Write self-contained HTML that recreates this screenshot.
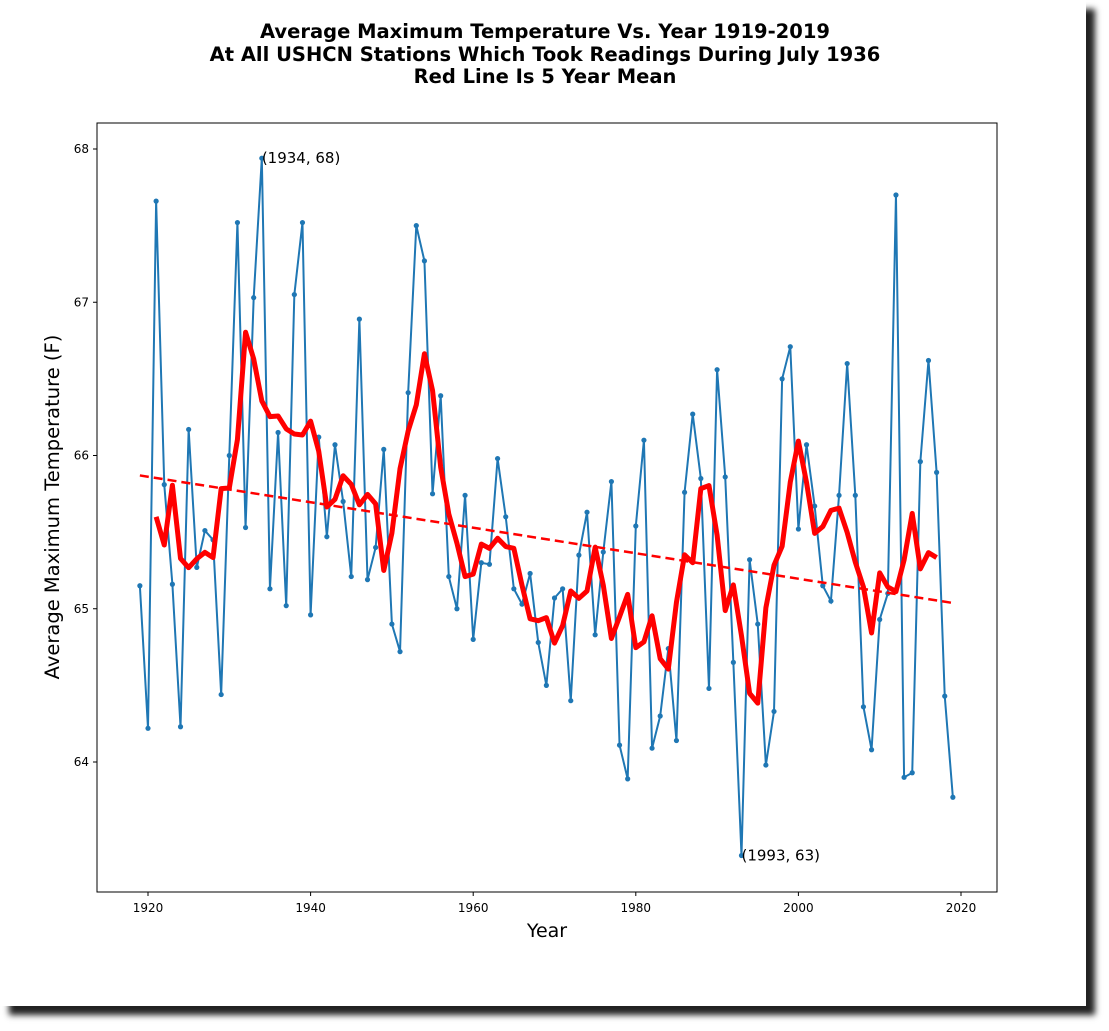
<!DOCTYPE html>
<html><head><meta charset="utf-8"><style>
body{margin:0;width:1109px;height:1031px;background:#fff;overflow:hidden;font-family:"Liberation Sans","DejaVu Sans",sans-serif}
#fig{position:absolute;left:0;top:0;width:1086px;height:1006px;background:#fff;box-shadow:9px 9px 6px #222}
svg{position:absolute;left:0;top:0}
</style></head><body>
<div id="fig"></div>
<svg id="chart" width="1109" height="1031">
<g font-family="DejaVu Sans, Liberation Sans, sans-serif" font-weight="bold" font-size="19.5" text-anchor="middle">
<text x="545" y="38">Average Maximum Temperature Vs. Year 1919-2019</text>
<text x="545" y="61">At All USHCN Stations Which Took Readings During July 1936</text>
<text x="545" y="83">Red Line Is 5 Year Mean</text>
</g>
<text x="547" y="937" font-family="DejaVu Sans, Liberation Sans, sans-serif" font-size="19" text-anchor="middle">Year</text>
<text transform="translate(59,507) rotate(-90)" font-family="DejaVu Sans, Liberation Sans, sans-serif" font-size="19.5" text-anchor="middle">Average Maximum Temperature (F)</text>
<rect x="97" y="123" width="900" height="769" fill="none" stroke="#000" stroke-width="1"/>
<g id="axes"></g><g id="marks"></g>
</svg>
<script>
const years=[];for(let y=1919;y<=2019;y++)years.push(y);
const temps=[65.15,64.22,67.66,65.81,65.16,64.23,66.17,65.27,65.51,65.45,64.44,66.0,67.52,65.53,67.03,67.94,65.13,66.15,65.02,67.05,67.52,64.96,66.12,65.47,66.07,65.70,65.21,66.89,65.19,65.40,66.04,64.90,64.72,66.41,67.50,67.27,65.75,66.39,65.21,65.0,65.74,64.80,65.30,65.29,65.98,65.60,65.13,65.03,65.23,64.78,64.50,65.07,65.13,64.40,65.35,65.63,64.83,65.37,65.83,64.11,63.89,65.54,66.10,64.09,64.30,64.74,64.14,65.76,66.27,65.85,64.48,66.56,65.86,64.65,63.39,65.32,64.90,63.98,64.33,66.50,66.71,65.52,66.07,65.67,65.15,65.05,65.74,66.60,65.74,64.36,64.08,64.93,65.10,67.70,63.90,63.93,65.96,66.62,65.89,64.43,63.77];
const xTicks=[1920,1940,1960,1980,2000,2020];
const yTicks=[64,65,66,67,68];
const annotations=[{year:1934,label:"(1934, 68)"},{year:1993,label:"(1993, 63)"}];
const X=v=>148+(v-1920)*8.13;
const Y=v=>149+(68-v)*153.25;
const NS="http://www.w3.org/2000/svg";
const axes=document.getElementById('axes'),marks=document.getElementById('marks');
function mk(tag,attrs,parent){const e=document.createElementNS(NS,tag);for(const k in attrs)e.setAttribute(k,attrs[k]);parent.appendChild(e);return e;}
xTicks.forEach(t=>{
 const l=mk('line',{x1:X(t),x2:X(t),y1:892,y2:896,stroke:'#000'},axes);
 
 
 const tx=mk('text',{x:X(t),y:912,'font-size':12,'text-anchor':'middle','font-family':'DejaVu Sans, Liberation Sans, sans-serif'},axes);tx.textContent=t;
 
 
});
yTicks.forEach(t=>{
 const l=mk('line',{x1:93,x2:97,y1:Y(t),y2:Y(t),stroke:'#000'},axes);
 
 
 const tx=mk('text',{x:89,y:Y(t)+4,'font-size':12,'text-anchor':'end','font-family':'DejaVu Sans, Liberation Sans, sans-serif'},axes);tx.textContent=t;
 
 
});
const line=mk('polyline',{points:years.map((y,i)=>X(y)+','+Y(temps[i])).join(' '),fill:'none',stroke:'#1f77b4','stroke-width':2},marks);


years.forEach((y,i)=>{
 const c=mk('circle',{cx:X(y),cy:Y(temps[i]),r:2.6,fill:'#1f77b4'},marks);
 
 
});
const n=years.length,mx=years.reduce((a,b)=>a+b)/n,my=temps.reduce((a,b)=>a+b)/n;
let sxy=0,sxx=0;years.forEach((y,i)=>{sxy+=(y-mx)*(temps[i]-my);sxx+=(y-mx)*(y-mx);});
const slope=sxy/sxx,f=y=>my+slope*(y-mx);
const tr=mk('line',{x1:X(1919),y1:Y(f(1919)),x2:X(2019),y2:Y(f(2019)),stroke:'#f00','stroke-width':2.5,'stroke-dasharray':'9,5'},marks);


const pts=[];for(let i=2;i<n-2;i++){let s=0;for(let j=-2;j<=2;j++)s+=temps[i+j];pts.push(X(years[i])+','+Y(s/5));}
const rm=mk('polyline',{points:pts.join(' '),fill:'none',stroke:'#f00','stroke-width':5,'stroke-linejoin':'round'},marks);


annotations.forEach(a=>{
 const i=years.indexOf(a.year);
 const t=mk('text',{x:X(a.year),y:Y(temps[i])+5,'font-size':15,'font-family':'DejaVu Sans, Liberation Sans, sans-serif'},marks);t.textContent=a.label;
 
 
});
</script>
</body></html>
